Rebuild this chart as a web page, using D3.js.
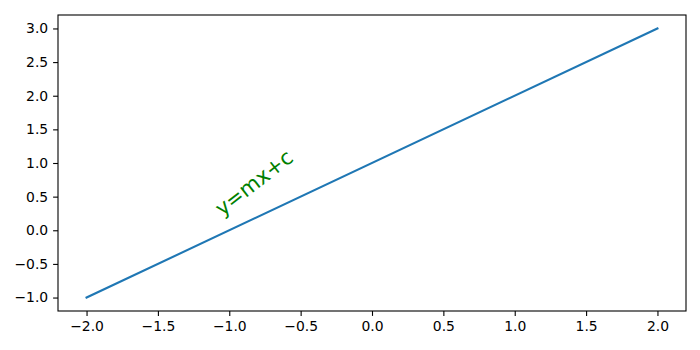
<!DOCTYPE html>
<html>
<head>
<meta charset="utf-8">
<script src="https://cdn.jsdelivr.net/npm/d3@7"></script>
<style>
  body { margin: 0; background: #fff; }
  svg { display: block; font-family: "DejaVu Sans", sans-serif; }
</style>
</head>
<body>
<div id="chart"></div>
<script>
// Line data: y = x + 1
const xValues = [-2.0, 2.0];
const yValues = [-1.0, 3.0];
const xTicks = [-2.0, -1.5, -1.0, -0.5, 0.0, 0.5, 1.0, 1.5, 2.0];
const yTicks = [-1.0, -0.5, 0.0, 0.5, 1.0, 1.5, 2.0, 2.5, 3.0];
const labelText = "y=mx+c";

const width = 700, height = 350;
const margin = { top: 15, right: 14, bottom: 39, left: 58 };
const w = width - margin.left - margin.right;
const h = height - margin.top - margin.bottom;

const svg = d3.select("#chart").append("svg")
    .attr("width", width)
    .attr("height", height);

const g = svg.append("g")
    .attr("transform", `translate(${margin.left},${margin.top})`);

const x = d3.scaleLinear().domain([-2.2, 2.2]).range([0, w]);
const y = d3.scaleLinear().domain([-1.2, 3.2]).range([h, 0]);

const fmt = d3.format(".1f");

// Axes
const xAxis = g.append("g")
    .attr("transform", `translate(0,${h})`)
    .call(d3.axisBottom(x).tickValues(xTicks).tickFormat(fmt).tickSize(4.9).tickPadding(4.9));
const yAxis = g.append("g")
    .call(d3.axisLeft(y).tickValues(yTicks).tickFormat(fmt).tickSize(4.9).tickPadding(4.9));

[xAxis, yAxis].forEach(a => {
    a.select(".domain").remove();
    a.selectAll(".tick line").attr("stroke", "#000").attr("stroke-width", 1.1);
    a.selectAll(".tick text")
        .style("font-family", "DejaVu Sans")
        .style("font-size", "13.9px")
        .attr("fill", "#000");
});

// The line
const pts = xValues.map((d, i) => [d, yValues[i]]);
g.append("path")
    .datum(pts)
    .attr("fill", "none")
    .attr("stroke", "#1f77b4")
    .attr("stroke-width", 2.1)
    .attr("stroke-linecap", "square")
    .attr("d", d3.line().x(d => x(d[0])).y(d => y(d[1])));

// Label
g.append("text")
    .attr("transform", `translate(${x(-1.05)},${y(0.2)}) rotate(-38)`)
    .style("font-family", "DejaVu Sans")
    .style("font-size", "21px")
    .attr("fill", "#008000")
    .text(labelText);

// Frame
g.append("rect")
    .attr("width", w)
    .attr("height", h)
    .attr("fill", "none")
    .attr("stroke", "#000")
    .attr("stroke-width", 1.1);
</script>
</body>
</html>
